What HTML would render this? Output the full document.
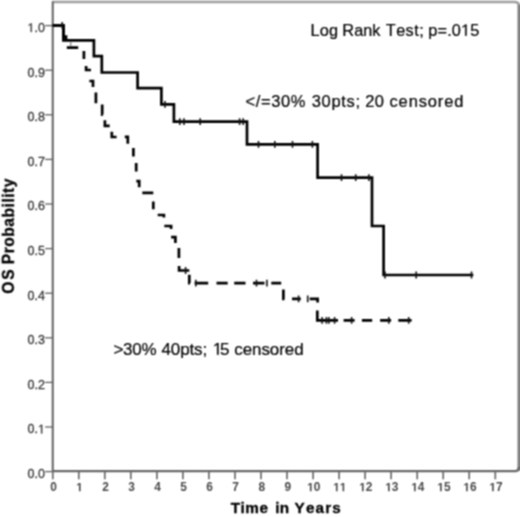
<!DOCTYPE html>
<html><head><meta charset="utf-8"><style>
html,body{margin:0;padding:0;background:#fff;}
svg{display:block;}
text{font-family:"Liberation Sans",sans-serif;}
.yl{font-size:12.5px;fill:#383838;stroke:#383838;stroke-width:0.3px;}
.xl{font-size:11.9px;font-weight:bold;fill:#484848;}
.ann{font-size:16.5px;fill:#000;stroke:#000;stroke-width:0.2px;}
.ttl{font-size:15.6px;font-weight:bold;fill:#000;stroke:#000;stroke-width:0.3px;}
</style></head><body>
<svg width="520" height="517" viewBox="0 0 520 517">
<defs><filter id="b" color-interpolation-filters="sRGB" x="0" y="0" width="520" height="517" filterUnits="userSpaceOnUse"><feConvolveMatrix order="3" kernelMatrix="1 2 1 2 4 2 1 2 1" divisor="16" edgeMode="duplicate" preserveAlpha="true"/></filter></defs>
<g filter="url(#b)"><rect width="520" height="517" fill="#fff"/>
<path d="M52 2.0 H514.5 Q518.9 2.0 518.9 6 V471" fill="none" stroke="#a0a0a0" stroke-width="2.6"/>
<path d="M518.9 5 V469" fill="none" stroke="#808080" stroke-width="2.4"/>
<path d="M52.75 471 V1.5" fill="none" stroke="#686868" stroke-width="2.1"/>
<path d="M52.7 471.1 H515 Q518.9 471.1 518.9 467" fill="none" stroke="#686868" stroke-width="2.3"/>
<line x1="45.2" y1="471.6" x2="52.7" y2="471.6" stroke="#606060" stroke-width="1.3"/>
<text x="27.52 34.48 37.95" y="478.0" class="yl" style="font-size:12.5px">0.0</text>
<line x1="45.2" y1="427.0" x2="52.7" y2="427.0" stroke="#606060" stroke-width="1.3"/>
<text x="27.52 34.48 37.95" y="433.4" class="yl" style="font-size:12.5px">0.&#160;</text>
<path d="M515 0V1237L197 1010V1180L530 1409H696V0Z" transform="translate(37.95 433.4) scale(0.00610 -0.00610)" fill="#383838" stroke="#383838" stroke-width="49.2"/>
<line x1="45.2" y1="382.4" x2="52.7" y2="382.4" stroke="#606060" stroke-width="1.3"/>
<text x="27.52 34.48 37.95" y="388.8" class="yl" style="font-size:12.5px">0.2</text>
<line x1="45.2" y1="337.8" x2="52.7" y2="337.8" stroke="#606060" stroke-width="1.3"/>
<text x="27.52 34.48 37.95" y="344.2" class="yl" style="font-size:12.5px">0.3</text>
<line x1="45.2" y1="293.2" x2="52.7" y2="293.2" stroke="#606060" stroke-width="1.3"/>
<text x="27.52 34.48 37.95" y="299.6" class="yl" style="font-size:12.5px">0.4</text>
<line x1="45.2" y1="248.6" x2="52.7" y2="248.6" stroke="#606060" stroke-width="1.3"/>
<text x="27.52 34.48 37.95" y="255.0" class="yl" style="font-size:12.5px">0.5</text>
<line x1="45.2" y1="204.0" x2="52.7" y2="204.0" stroke="#606060" stroke-width="1.3"/>
<text x="27.52 34.48 37.95" y="210.4" class="yl" style="font-size:12.5px">0.6</text>
<line x1="45.2" y1="159.4" x2="52.7" y2="159.4" stroke="#606060" stroke-width="1.3"/>
<text x="27.52 34.48 37.95" y="165.8" class="yl" style="font-size:12.5px">0.7</text>
<line x1="45.2" y1="114.8" x2="52.7" y2="114.8" stroke="#606060" stroke-width="1.3"/>
<text x="27.52 34.48 37.95" y="121.2" class="yl" style="font-size:12.5px">0.8</text>
<line x1="45.2" y1="70.2" x2="52.7" y2="70.2" stroke="#606060" stroke-width="1.3"/>
<text x="27.52 34.48 37.95" y="76.6" class="yl" style="font-size:12.5px">0.9</text>
<line x1="45.2" y1="25.6" x2="52.7" y2="25.6" stroke="#606060" stroke-width="1.3"/>
<text x="27.52 34.48 37.95" y="32.0" class="yl" style="font-size:12.5px">&#160;.0</text>
<path d="M515 0V1237L197 1010V1180L530 1409H696V0Z" transform="translate(27.52 32.0) scale(0.00610 -0.00610)" fill="#383838" stroke="#383838" stroke-width="49.2"/>
<line x1="52.8" y1="471" x2="52.8" y2="479.3" stroke="#6a6a6a" stroke-width="1.7"/>
<text x="50.14" y="491.3" class="xl" style="font-size:11.9px">0</text>
<line x1="78.8" y1="471" x2="78.8" y2="479.3" stroke="#6a6a6a" stroke-width="1.7"/>
<text x="76.17" y="491.3" class="xl" style="font-size:11.9px">&#160;</text>
<path d="M478 0V1170L140 959V1180L493 1409H759V0Z" transform="translate(76.17 491.3) scale(0.00581 -0.00581)" fill="#484848"/>
<line x1="104.8" y1="471" x2="104.8" y2="479.3" stroke="#6a6a6a" stroke-width="1.7"/>
<text x="102.20" y="491.3" class="xl" style="font-size:11.9px">2</text>
<line x1="130.8" y1="471" x2="130.8" y2="479.3" stroke="#6a6a6a" stroke-width="1.7"/>
<text x="128.23" y="491.3" class="xl" style="font-size:11.9px">3</text>
<line x1="156.9" y1="471" x2="156.9" y2="479.3" stroke="#6a6a6a" stroke-width="1.7"/>
<text x="154.26" y="491.3" class="xl" style="font-size:11.9px">4</text>
<line x1="182.9" y1="471" x2="182.9" y2="479.3" stroke="#6a6a6a" stroke-width="1.7"/>
<text x="180.29" y="491.3" class="xl" style="font-size:11.9px">5</text>
<line x1="208.9" y1="471" x2="208.9" y2="479.3" stroke="#6a6a6a" stroke-width="1.7"/>
<text x="206.32" y="491.3" class="xl" style="font-size:11.9px">6</text>
<line x1="235.0" y1="471" x2="235.0" y2="479.3" stroke="#6a6a6a" stroke-width="1.7"/>
<text x="232.35" y="491.3" class="xl" style="font-size:11.9px">7</text>
<line x1="261.0" y1="471" x2="261.0" y2="479.3" stroke="#6a6a6a" stroke-width="1.7"/>
<text x="258.38" y="491.3" class="xl" style="font-size:11.9px">8</text>
<line x1="287.0" y1="471" x2="287.0" y2="479.3" stroke="#6a6a6a" stroke-width="1.7"/>
<text x="284.41" y="491.3" class="xl" style="font-size:11.9px">9</text>
<line x1="313.1" y1="471" x2="313.1" y2="479.3" stroke="#6a6a6a" stroke-width="1.7"/>
<text x="307.13 313.75" y="491.3" class="xl" style="font-size:11.9px">&#160;0</text>
<path d="M478 0V1170L140 959V1180L493 1409H759V0Z" transform="translate(307.13 491.3) scale(0.00581 -0.00581)" fill="#484848"/>
<line x1="339.1" y1="471" x2="339.1" y2="479.3" stroke="#6a6a6a" stroke-width="1.7"/>
<text x="333.16 339.78" y="491.3" class="xl" style="font-size:11.9px">&#160;&#160;</text>
<path d="M478 0V1170L140 959V1180L493 1409H759V0Z" transform="translate(333.16 491.3) scale(0.00581 -0.00581)" fill="#484848"/>
<path d="M478 0V1170L140 959V1180L493 1409H759V0Z" transform="translate(339.78 491.3) scale(0.00581 -0.00581)" fill="#484848"/>
<line x1="365.1" y1="471" x2="365.1" y2="479.3" stroke="#6a6a6a" stroke-width="1.7"/>
<text x="359.19 365.81" y="491.3" class="xl" style="font-size:11.9px">&#160;2</text>
<path d="M478 0V1170L140 959V1180L493 1409H759V0Z" transform="translate(359.19 491.3) scale(0.00581 -0.00581)" fill="#484848"/>
<line x1="391.1" y1="471" x2="391.1" y2="479.3" stroke="#6a6a6a" stroke-width="1.7"/>
<text x="385.22 391.84" y="491.3" class="xl" style="font-size:11.9px">&#160;3</text>
<path d="M478 0V1170L140 959V1180L493 1409H759V0Z" transform="translate(385.22 491.3) scale(0.00581 -0.00581)" fill="#484848"/>
<line x1="417.2" y1="471" x2="417.2" y2="479.3" stroke="#6a6a6a" stroke-width="1.7"/>
<text x="411.25 417.87" y="491.3" class="xl" style="font-size:11.9px">&#160;4</text>
<path d="M478 0V1170L140 959V1180L493 1409H759V0Z" transform="translate(411.25 491.3) scale(0.00581 -0.00581)" fill="#484848"/>
<line x1="443.2" y1="471" x2="443.2" y2="479.3" stroke="#6a6a6a" stroke-width="1.7"/>
<text x="437.28 443.90" y="491.3" class="xl" style="font-size:11.9px">&#160;5</text>
<path d="M478 0V1170L140 959V1180L493 1409H759V0Z" transform="translate(437.28 491.3) scale(0.00581 -0.00581)" fill="#484848"/>
<line x1="469.2" y1="471" x2="469.2" y2="479.3" stroke="#6a6a6a" stroke-width="1.7"/>
<text x="463.31 469.93" y="491.3" class="xl" style="font-size:11.9px">&#160;6</text>
<path d="M478 0V1170L140 959V1180L493 1409H759V0Z" transform="translate(463.31 491.3) scale(0.00581 -0.00581)" fill="#484848"/>
<line x1="495.3" y1="471" x2="495.3" y2="479.3" stroke="#6a6a6a" stroke-width="1.7"/>
<text x="489.34 495.96" y="491.3" class="xl" style="font-size:11.9px">&#160;7</text>
<path d="M478 0V1170L140 959V1180L493 1409H759V0Z" transform="translate(489.34 491.3) scale(0.00581 -0.00581)" fill="#484848"/>
<path d="M52.7 25.3 H63.5 V36.6 H66 V40 M66.8 47.7 H78.2 M83.9 51 V58.9 M86.1 66 V70 H91 M90.7 79.8 V81 H93 V87 M95.9 92.5 V103.2 M102.2 104.6 V114.6 H102.8 M104.9 120.2 V125.8 H109.7 M111.8 131.8 V137 H116.6 M124.8 136.8 H127.8 V143.8 M133.4 148.1 V156.6 M136.2 163 V171.4 M136.3 181.2 H139.2 V187.2 M142.3 192.8 H153.3 M153.3 201.4 V209.3 M157.7 215 H163.9 V217.4 M164.3 226 H171.1 V229 M171.1 237.2 H175.4 V243 M178.9 248.1 V258.1 M179.1 266 V270.5 H189.3 M189.3 274.7 V283.1 H190 M194.6 283.1 H208.2 M216.5 283.1 H227.7 M234.2 283.1 H245.5 M253 283.1 H264.5 M271.3 283.1 H281.2 M283.4 289.5 V298.8 H284.5 M292 298.8 H300.8 M309.7 298.8 H317.6 V302.5 M317.3 310.6 V320.4 H338 M343.6 320.4 H354.6 M361.9 320.4 H372.2 M380.1 320.4 H391.1 M398.3 320.4 H411.6" fill="none" stroke="#000" stroke-width="2.7"/>
<path d="M52.7 25.3 H63.4 V40.4 H93.9 V56.2 H101.8 V72.5 H137.6 V88.1 H161.4 V104.3 H173.9 V121.7 H247 V144.4 H317.6 V177.6 H372 V226 H383.6 V275.0 H473.3" fill="none" stroke="#000" stroke-width="2.7"/>
<path d="M62.2 21.900000000000002v6.8M165 100.89999999999999v6.8M179.8 118.3v6.8M184.0 118.3v6.8M200.2 118.3v6.8M239.6 118.3v6.8M243.2 118.3v6.8M258.5 141.0v6.8M274.8 141.0v6.8M292.5 141.0v6.8M312.4 141.0v6.8M341.5 174.2v6.8M355.7 174.2v6.8M368.9 174.2v6.8M385 271.6v6.8M416.2 271.6v6.8M471.5 271.6v6.8M185.6 267.1v6.8M195.8 279.70000000000005v6.8M256.5 279.70000000000005v6.8M266.9 279.70000000000005v6.8M298.6 295.40000000000003v6.8M307.7 295.40000000000003v6.8M322.1 317.0v6.8M326.4 317.0v6.8M328.8 317.0v6.8M334.6 317.0v6.8M351.6 317.0v6.8M388.8 317.0v6.8M408.7 317.0v6.8" fill="none" stroke="#111" stroke-width="1.6"/>
<path d="M70.8 41.6v4.6" stroke="#666" stroke-width="1"/>
<text x="310.45 319.67 328.90" y="35.8" class="ann" style="font-size:16.3px">Log</text>
<text x="342.35 354.15 363.25 372.35" y="35.8" class="ann" style="font-size:16.3px">Rank</text>
<text x="385.75 396.13 405.62 414.20 419.15" y="35.8" class="ann" style="font-size:16.3px">Test;</text>
<text x="428.25 437.48 447.16 451.85 461.07 470.30" y="35.8" class="ann" style="font-size:16.3px">p=.0&#160;5</text>
<path d="M515 0V1237L197 1010V1180L530 1409H696V0Z" transform="translate(461.07 35.8) scale(0.00796 -0.00796)" fill="#000" stroke="#000" stroke-width="25.1"/>
<text x="245.50 255.75 260.96 271.21 281.01 290.80" y="106.8" class="ann" style="font-size:16.5px">&lt;/=30%</text>
<text x="311.75 321.60 331.46 341.31 346.57 355.50" y="106.8" class="ann" style="font-size:16.5px">30pts;</text>
<text x="365.25 374.75" y="106.8" class="ann" style="font-size:16.5px">20</text>
<text x="389.50 398.61 408.64 418.67 427.78 437.81 444.17 454.20" y="106.8" class="ann" style="font-size:16.5px">censored</text>
<text x="113.45 123.12 132.31 141.50" y="354.8" class="ann" style="font-size:17.0px">&gt;30%</text>
<text x="161.50 170.84 180.17 189.51 194.12 202.50" y="354.8" class="ann" style="font-size:17.0px">40pts;</text>
<text x="212.80 219.95" y="354.8" class="ann" style="font-size:17.0px">&#160;5</text>
<path d="M515 0V1237L197 1010V1180L530 1409H696V0Z" transform="translate(212.80 354.8) scale(0.00830 -0.00830)" fill="#000" stroke="#000" stroke-width="24.1"/>
<text x="234.20 242.64 252.03 261.43 269.86 279.26 284.86 294.25" y="354.8" class="ann" style="font-size:17.0px">censored</text>
<text x="230.65 240.55 245.35 259.50" y="512.9" class="ttl" style="font-size:15.3px">Time</text>
<text x="275.25 279.70" y="512.9" class="ttl" style="font-size:15.3px">in</text>
<text x="294.60 305.94 315.58 325.22 332.30" y="512.9" class="ttl" style="font-size:15.3px">Years</text>
<g transform="translate(13.9,0) rotate(-90)"><text x="-293.85 -279.80" y="0" class="ttl" style="font-size:15.6px">OS</text><text x="-264.25 -253.33 -246.75 -236.71 -226.67 -217.48 -207.44 -202.60 -197.75 -192.91 -187.20" y="0" class="ttl" style="font-size:15.6px">Probability</text></g>
</g></svg>
</body></html>
